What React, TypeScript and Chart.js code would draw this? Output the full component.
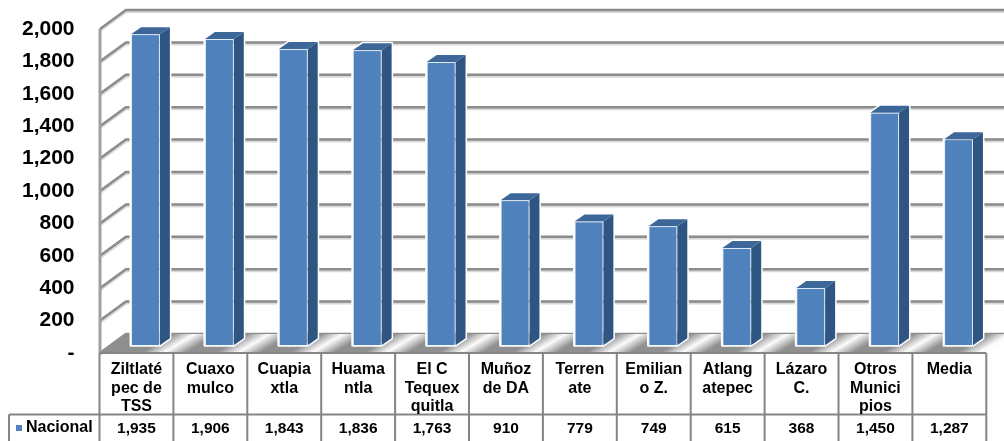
import React, { useEffect, useRef } from "react";
import { Chart, registerables } from "chart.js";

Chart.register(...registerables);

const categories = ["Ziltlaté pec de TSS", "Cuaxo mulco", "Cuapia xtla", "Huama ntla", "El C Tequex quitla", "Muñoz de DA", "Terren ate", "Emilian o Z.", "Atlang atepec", "Lázaro C.", "Otros Munici pios", "Media"];
const categoryLines = [["Ziltlaté", "pec de", "TSS"], ["Cuaxo", "mulco"], ["Cuapia", "xtla"], ["Huama", "ntla"], ["El C", "Tequex", "quitla"], ["Muñoz", "de DA"], ["Terren", "ate"], ["Emilian", "o Z."], ["Atlang", "atepec"], ["Lázaro", "C."], ["Otros", "Munici", "pios"], ["Media"]];
const seriesName = "Nacional";
const nacional = [1935, 1906, 1843, 1836, 1763, 910, 779, 749, 615, 368, 1450, 1287];

const FONT = '"Liberation Sans", Arial, sans-serif';
const fmt = (v: number) => v.toLocaleString("en-US");

const threeD = {
  id: "threeD",
  afterDatasetsDraw(chart: any) {
    const { ctx, scales } = chart;
    const y = scales.y;
    const frontL = 100, frontR = 986, dx = 26, dy = -19;
    const bottom = y.getPixelForValue(0);
    const top = y.getPixelForValue(2000);
    ctx.save();
    // grid: side wall and back wall
    y.ticks.forEach((t: any) => {
      const p = y.getPixelForValue(t.value);
      ctx.strokeStyle = "#d9d9d9";
      ctx.lineWidth = 4;
      ctx.beginPath();
      ctx.moveTo(frontL, p + 1);
      ctx.lineTo(frontL + dx, p + dy + 1);
      ctx.lineTo(1004, p + dy + 1);
      ctx.stroke();
      ctx.strokeStyle = "#8c8c8c";
      ctx.lineWidth = 2.5;
      ctx.beginPath();
      ctx.moveTo(frontL, p);
      ctx.lineTo(frontL + dx, p + dy);
      ctx.lineTo(1004, p + dy);
      ctx.stroke();
    });
    // floor: diagonal silver bands
    const g = ctx.createLinearGradient(frontL, bottom, frontL + 235, bottom + 392);
    for (let i = -1; i < 13; i++) {
      const stops: [number, string][] = [
        [(i + 0.555) / 12, "#8f8f8f"],
        [(i + 0.855) / 12, "#fcfcfc"],
        [(i + 1.155) / 12, "#8f8f8f"],
      ];
      stops.forEach(([s, c]) => {
        if (s >= 0 && s <= 1) g.addColorStop(s, c);
      });
    }
    ctx.fillStyle = g;
    ctx.beginPath();
    ctx.moveTo(frontL, bottom);
    ctx.lineTo(frontR, bottom);
    ctx.lineTo(frontR + dx, bottom + dy);
    ctx.lineTo(frontL + dx, bottom + dy);
    ctx.closePath();
    ctx.fill();
    // left edge of the wall
    ctx.strokeStyle = "#a0a0a0";
    ctx.lineWidth = 3;
    ctx.beginPath();
    ctx.moveTo(frontL, bottom);
    ctx.lineTo(frontL, top);
    ctx.stroke();
    // bar sides and tops, then the fronts again on top of the walls and floor
    const meta = chart.getDatasetMeta(0);
    meta.data.forEach((bar: any) => {
      const L = bar.x - bar.width / 2;
      const R = bar.x + bar.width / 2;
      const T = bar.y;
      const B = bar.base;
      const ox = 10, oy = -7;
      ctx.lineJoin = "round";
      ctx.strokeStyle = "#ffffff";
      ctx.lineWidth = 3;
      ctx.beginPath();
      ctx.moveTo(L, B);
      ctx.lineTo(L, T);
      ctx.lineTo(L + ox, T + oy);
      ctx.lineTo(R + ox, T + oy);
      ctx.lineTo(R + ox, B + oy);
      ctx.lineTo(R, B);
      ctx.closePath();
      ctx.stroke();
      ctx.fillStyle = "#2f5583";
      ctx.beginPath();
      ctx.moveTo(R, T);
      ctx.lineTo(R + ox, T + oy);
      ctx.lineTo(R + ox, B + oy);
      ctx.lineTo(R, B);
      ctx.closePath();
      ctx.fill();
      ctx.fillStyle = "#3c6798";
      ctx.beginPath();
      ctx.moveTo(L, T);
      ctx.lineTo(L + ox, T + oy);
      ctx.lineTo(R + ox, T + oy);
      ctx.lineTo(R, T);
      ctx.closePath();
      ctx.fill();
      bar.draw(ctx);
    });
    ctx.restore();
  },
  afterDraw(chart: any) {
    const { ctx, scales } = chart;
    const top = scales.y.getPixelForValue(0);
    const left = 99.5, pitch = 73.9, mid = 414.5, end = 441, legendL = 9;
    const n = categoryLines.length;
    ctx.save();
    ctx.strokeStyle = "#858585";
    ctx.lineWidth = 2;
    ctx.beginPath();
    ctx.moveTo(left, top);
    ctx.lineTo(left + n * pitch, top);
    ctx.moveTo(legendL, mid);
    ctx.lineTo(left + n * pitch, mid);
    ctx.moveTo(legendL, mid);
    ctx.lineTo(legendL, end);
    for (let i = 0; i <= n; i++) {
      ctx.moveTo(left + i * pitch, top);
      ctx.lineTo(left + i * pitch, end);
    }
    ctx.stroke();
    ctx.fillStyle = "#000000";
    ctx.textAlign = "center";
    ctx.textBaseline = "middle";
    categoryLines.forEach((lines, i) => {
      const cx = left + (i + 0.5) * pitch;
      ctx.font = `bold 16px ${FONT}`;
      lines.forEach((s, j) => ctx.fillText(s, cx, 370 + j * 18.5));
      ctx.font = `bold 15.5px ${FONT}`;
      ctx.fillText(fmt(nacional[i]), cx, 429);
    });
    ctx.textAlign = "left";
    ctx.font = `bold 16px ${FONT}`;
    ctx.fillText(seriesName, 26, 428);
    ctx.fillStyle = "#4f81bd";
    ctx.fillRect(16, 425, 6, 6);
    ctx.restore();
  },
};

export default function App() {
  const ref = useRef<HTMLCanvasElement>(null);
  useEffect(() => {
    const chart = new Chart(ref.current!, {
      type: "bar",
      data: {
        labels: categories,
        datasets: [
          {
            label: seriesName,
            data: nacional,
            yAxisID: "yBars",
            base: 15,
            backgroundColor: "#4f81bd",
            borderColor: "#dfe9f5",
            borderWidth: 1,
            barPercentage: 0.39,
            categoryPercentage: 1,
          } as any,
        ],
      },
      options: {
        responsive: false,
        animation: false,
        layout: { padding: { top: 29, bottom: 88, right: 8.5, left: 0 } },
        plugins: { legend: { display: false }, tooltip: { enabled: false } },
        scales: {
          x: { display: false },
          y: {
            position: "left",
            min: 0,
            max: 2000,
            afterFit(scale: any) {
              scale.width = 108.5;
              scale.paddingTop = 0;
              scale.paddingBottom = 0;
            },
            grid: { display: false },
            border: { display: false },
            ticks: {
              stepSize: 200,
              padding: 26,
              color: "#000000",
              font: { family: FONT, size: 21, weight: "bold" },
              callback: (v: any) => (v === 0 ? "-" : fmt(v)),
            },
          },
          yBars: { display: false, min: -33, max: 1967 },
        },
      } as any,
      plugins: [threeD],
    });
    return () => chart.destroy();
  }, []);
  return (
    <canvas
      ref={ref}
      width={1004}
      height={441}
      style={{ position: "absolute", left: 0, top: 0, display: "block", background: "#fff" }}
    />
  );
}
